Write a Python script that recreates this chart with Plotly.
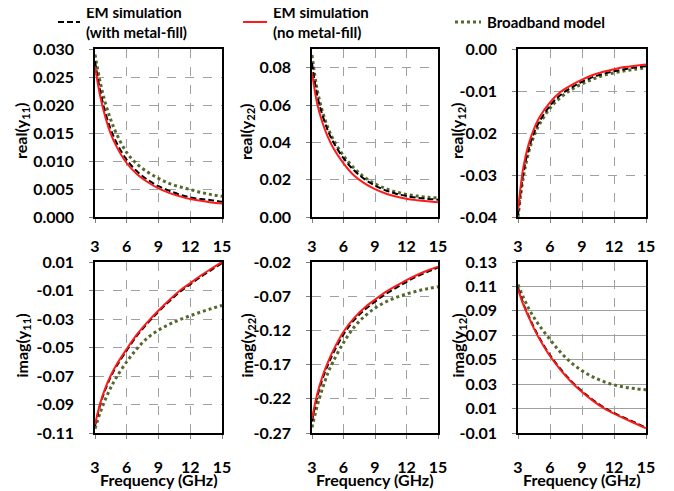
import plotly.graph_objects as go

# frequency points (GHz)
freq = [3, 3.5, 4, 4.5, 5, 6, 7, 8, 9, 10, 11, 12, 13, 14, 15]

# real(y11)
re_y11_fill = [0.0278, 0.0224, 0.0185, 0.0156, 0.0134, 0.0102, 0.0081, 0.0066, 0.0055, 0.0047, 0.0040, 0.0035, 0.0032, 0.0030, 0.0027]
re_y11_nofill = [0.0269, 0.0215, 0.0177, 0.0148, 0.0127, 0.0096, 0.0076, 0.0062, 0.0051, 0.0043, 0.0037, 0.0032, 0.0029, 0.0026, 0.0024]
re_y11_model = [0.0290, 0.0240, 0.0202, 0.0173, 0.0150, 0.0115, 0.0094, 0.0080, 0.0069, 0.0060, 0.0054, 0.0049, 0.0044, 0.0040, 0.0037]

# real(y22)
re_y22_fill = [0.0825, 0.0650, 0.0545, 0.0465, 0.0405, 0.0315, 0.0250, 0.0203, 0.0168, 0.0143, 0.0125, 0.0112, 0.0103, 0.0097, 0.0093]
re_y22_nofill = [0.0775, 0.0605, 0.0505, 0.0430, 0.0372, 0.0287, 0.0222, 0.0180, 0.0149, 0.0126, 0.0110, 0.0098, 0.0090, 0.0084, 0.0079]
re_y22_model = [0.0868, 0.0680, 0.0565, 0.0480, 0.0418, 0.0328, 0.0262, 0.0213, 0.0178, 0.0152, 0.0134, 0.0121, 0.0112, 0.0106, 0.0102]

# real(y12)
re_y12_fill = [-0.0395, -0.0295, -0.0238, -0.0200, -0.0173, -0.0135, -0.0109, -0.0092, -0.0078, -0.0067, -0.0059, -0.0053, -0.0048, -0.0044, -0.0041]
re_y12_nofill = [-0.0385, -0.0282, -0.0226, -0.0190, -0.0163, -0.0127, -0.0102, -0.0086, -0.0073, -0.0062, -0.0054, -0.0048, -0.0043, -0.0040, -0.0037]
re_y12_model = [-0.0400, -0.0305, -0.0246, -0.0207, -0.0180, -0.0141, -0.0115, -0.0097, -0.0083, -0.0072, -0.0063, -0.0057, -0.0052, -0.0048, -0.0045]

# imag(y11)
im_y11_fill = [-0.105, -0.090, -0.079, -0.0705, -0.0635, -0.052, -0.0414, -0.0327, -0.0249, -0.0177, -0.0111, -0.0057, -0.0004, 0.0045, 0.0093]
im_y11_nofill = [-0.104, -0.089, -0.078, -0.0695, -0.0625, -0.051, -0.0405, -0.0318, -0.0240, -0.0168, -0.0102, -0.0048, 0.0005, 0.0053, 0.0100]
im_y11_model = [-0.107, -0.0955, -0.0860, -0.0780, -0.0712, -0.0600, -0.0505, -0.0430, -0.0378, -0.0338, -0.0305, -0.0277, -0.0251, -0.0227, -0.0204]

# imag(y22)
im_y22_fill = [-0.253, -0.217, -0.191, -0.171, -0.154, -0.126, -0.105, -0.090, -0.078, -0.067, -0.058, -0.049, -0.041, -0.0345, -0.028]
im_y22_nofill = [-0.249, -0.213, -0.187, -0.167, -0.150, -0.122, -0.102, -0.087, -0.075, -0.064, -0.055, -0.0465, -0.039, -0.0325, -0.027]
im_y22_model = [-0.262, -0.230, -0.205, -0.183, -0.166, -0.138, -0.1155, -0.0995, -0.0875, -0.0785, -0.0720, -0.0668, -0.0625, -0.0590, -0.0562]

# imag(y12)
im_y12_fill = [0.109, 0.0960, 0.0858, 0.0763, 0.0680, 0.0538, 0.0422, 0.0325, 0.0242, 0.0172, 0.0112, 0.0064, 0.0023, -0.0016, -0.0057]
im_y12_nofill = [0.108, 0.095, 0.085, 0.0755, 0.0672, 0.053, 0.0415, 0.0318, 0.0235, 0.0165, 0.0105, 0.0058, 0.0017, -0.0022, -0.0062]
im_y12_model = [0.1115, 0.1010, 0.0920, 0.0845, 0.0780, 0.0665, 0.0560, 0.0475, 0.0410, 0.0360, 0.0322, 0.0294, 0.0275, 0.0263, 0.0255]

x_ticks = [3, 6, 9, 12, 15]
ticks_re_y11 = [0.000, 0.005, 0.010, 0.015, 0.020, 0.025, 0.030]
labels_re_y11 = ['0.000', '0.005', '0.010', '0.015', '0.020', '0.025', '0.030']
ticks_re_y22 = [0.00, 0.02, 0.04, 0.06, 0.08]
labels_re_y22 = ['0.00', '0.02', '0.04', '0.06', '0.08']
ticks_re_y12 = [-0.04, -0.03, -0.02, -0.01, 0.00]
labels_re_y12 = ['-0.04', '-0.03', '-0.02', '-0.01', '0.00']
ticks_im_y11 = [-0.11, -0.09, -0.07, -0.05, -0.03, -0.01, 0.01]
labels_im_y11 = ['-0.11', '-0.09', '-0.07', '-0.05', '-0.03', '-0.01', '0.01']
ticks_im_y22 = [-0.27, -0.22, -0.17, -0.12, -0.07, -0.02]
labels_im_y22 = ['-0.27', '-0.22', '-0.17', '-0.12', '-0.07', '-0.02']
ticks_im_y12 = [-0.01, 0.01, 0.03, 0.05, 0.07, 0.09, 0.11, 0.13]
labels_im_y12 = ['-0.01', '0.01', '0.03', '0.05', '0.07', '0.09', '0.11', '0.13']

GREEN = '#55692f'
RED = '#ff1a1a'
FONT = 'Lato'
W, H = 674, 491
OFF = 8  # page body margin


def px(p):
    return (p - OFF) / W


def py(p):
    return 1 - (p - OFF) / H


panels = [
    # (fill, nofill, model, yrange, ticks, labels, title, col, row, solid_hgrid)
    (re_y11_fill, re_y11_nofill, re_y11_model, [0, 0.030], ticks_re_y11, labels_re_y11, 'real(y<sub>11</sub>)', 0, 0, False),
    (re_y22_fill, re_y22_nofill, re_y22_model, [0, 0.09], ticks_re_y22, labels_re_y22, 'real(y<sub>22</sub>)', 1, 0, False),
    (re_y12_fill, re_y12_nofill, re_y12_model, [-0.04, 0], ticks_re_y12, labels_re_y12, 'real(y<sub>12</sub>)', 2, 0, False),
    (im_y11_fill, im_y11_nofill, im_y11_model, [-0.11, 0.01], ticks_im_y11, labels_im_y11, 'imag(y<sub>11</sub>)', 0, 1, False),
    (im_y22_fill, im_y22_nofill, im_y22_model, [-0.27, -0.02], ticks_im_y22, labels_im_y22, 'imag(y<sub>22</sub>)', 1, 1, False),
    (im_y12_fill, im_y12_nofill, im_y12_model, [-0.01, 0.13], ticks_im_y12, labels_im_y12, 'imag(y<sub>12</sub>)', 2, 1, True),
]

# plot-area pixel boxes (screen pixels)
x_px = [(95, 222), (312, 438), (518, 646)]
y_px = [(49, 217), (262, 433)]
ytitle_x = [22, 247, 458]
x_standoff = [10, 15]

tick_font = dict(family=FONT, size=16, color='black', weight='bold')

fig = go.Figure()
annotations = []
for i, (fill, nofill, model, yr, tv, tt, title, col, row, solid) in enumerate(panels):
    n = '' if i == 0 else str(i + 1)
    xa, ya = 'x' + n, 'y' + n
    for ys, color, dash, width in [(model, GREEN, 'dot', 3),
                                    (fill, 'black', '6px,3px', 2),
                                    (nofill, RED, 'solid', 2)]:
        fig.add_trace(go.Scatter(x=freq, y=ys, mode='lines', xaxis=xa, yaxis=ya,
                                 line=dict(color=color, dash=dash, width=width, shape='spline'),
                                 showlegend=False))
    x0, x1 = x_px[col]
    y0, y1 = y_px[row]
    common = dict(showline=True, mirror=True, linecolor='black', linewidth=1.5,
                  showgrid=True, gridcolor='#a0a0a0', gridwidth=1,
                  ticks='outside', ticklen=4, tickcolor='#808080',
                  tickfont=tick_font, zeroline=False, automargin=False)
    fig.update_layout(**{
        'xaxis' + n: dict(domain=[px(x0), px(x1)], range=[3, 15], tickvals=x_ticks,
                          griddash='dash', anchor=ya, ticklabelstandoff=x_standoff[row], **common),
        'yaxis' + n: dict(domain=[py(y1), py(y0)], range=yr, tickvals=tv, ticktext=tt,
                          griddash='solid' if solid else 'dash', anchor=xa,
                          ticklabelstandoff=12, **common),
    })
    annotations.append(dict(text=title, x=px(ytitle_x[col]), y=py((y0 + y1) / 2 - 2),
                            xanchor='center', yanchor='middle',
                            xref='paper', yref='paper', showarrow=False, textangle=-90,
                            font=dict(family=FONT, size=16, color='black', weight='bold')))
    if row == 1:
        annotations.append(dict(text='Frequency (GHz)', x=px((x0 + x1) / 2), y=py(479),
                                xanchor='center', yanchor='middle',
                                xref='paper', yref='paper', showarrow=False,
                                font=dict(family=FONT, size=16, color='black', weight='bold')))

# legend (drawn manually to match the layout above the plots)
leg_font = dict(family=FONT, size=15, color='black', weight='bold')
legend_items = [
    ('EM simulation<br>(with metal-fill)', 58, 80, 'black', '6px,3px', 2),
    ('EM simulation<br>(no metal-fill)', 243, 267, RED, 'solid', 2),
    ('Broadband model', 455, 481, GREEN, 'dot', 3),
]
shapes = []
for text, sx0, sx1, color, dash, width in legend_items:
    shapes.append(dict(type='line', xref='paper', yref='paper', x0=px(sx0), x1=px(sx1),
                       y0=py(22), y1=py(22), line=dict(color=color, dash=dash, width=width)))
    annotations.append(dict(text=text, x=px(sx1 + 4), y=py(22), xref='paper', yref='paper',
                            xanchor='left', yanchor='middle', align='left', showarrow=False,
                            font=leg_font))

fig.update_layout(width=W, height=H, margin=dict(l=0, r=0, t=0, b=0),
                  paper_bgcolor='white', plot_bgcolor='white',
                  annotations=annotations, shapes=shapes, showlegend=False)
fig.write_html("out.html")
